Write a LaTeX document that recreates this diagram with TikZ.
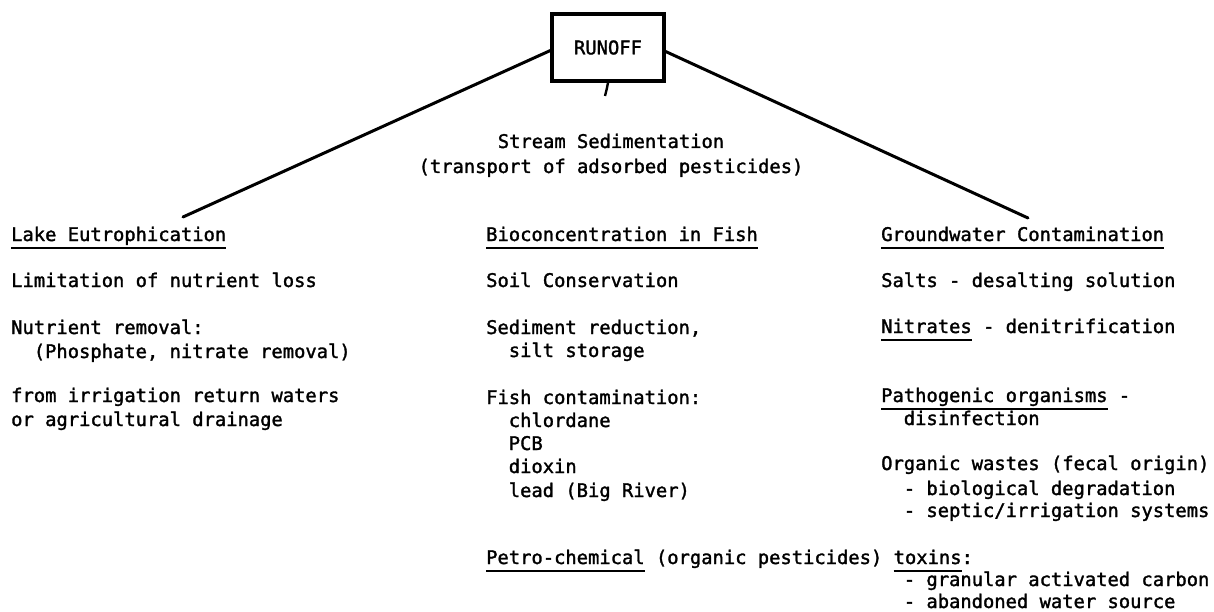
\documentclass[tikz,border=0pt]{standalone}
\usepackage{fontspec}
\newfontfamily\tw[FakeBold=1.6]{DejaVu Sans Mono}
\newcommand\ulin[1]{\setbox0\hbox{#1}\rlap{\rule[-7.5pt]{\wd0}{1.5pt}}\box0\relax}
\tikzset{
  txt/.style={anchor=base west, inner sep=0pt, font=\tw\fontsize{18.8}{23}\selectfont},
  ctxt/.style={anchor=base, inner sep=0pt, font=\tw\fontsize{18.8}{23}\selectfont},
  boxed/.style={draw, line width=3.2pt, minimum width=112pt, minimum height=67pt, inner sep=0pt, font=\tw\fontsize{18.8}{23}\selectfont},
  branch/.style={line width=3pt, line cap=round}
}
\begin{document}
\begin{tikzpicture}[x=1pt,y=-1pt]
\useasboundingbox (0,0) rectangle (1214,612);
% top box
\node[boxed] (runoff) at (608,47.5) {RUNOFF};
\coordinate (tick) at (605,96);
\draw[line width=2.4pt] (runoff.south) .. controls (607,88) .. (tick);
\coordinate (lend) at (183,217);
\coordinate (rend) at (1028,218);
\draw[branch] ([yshift=-3pt]runoff.west) -- (lend);
\draw[branch] ([yshift=-4pt]runoff.east) -- (rend);
% center captions
\node[ctxt] (sed) at (611,148) {Stream Sedimentation};
\node[ctxt] (trans) at (611,173) {(transport of adsorbed pesticides)};
% left column
\node[txt] (lh) at (11,241) {\ulin{Lake Eutrophication}};
\node[txt] (l1) at (11,287) {Limitation of nutrient loss};
\node[txt] (l2) at (11,334) {Nutrient removal:};
\node[txt] (l3) at (33.6,358) {(Phosphate, nitrate removal)};
\node[txt] (l4) at (11,402) {from irrigation return waters};
\node[txt] (l5) at (11,426) {or agricultural drainage};
% middle column
\node[txt] (mh) at (486,241) {\ulin{Bioconcentration in Fish}};
\node[txt] (m1) at (486,287) {Soil Conservation};
\node[txt] (m2) at (486,334) {Sediment reduction,};
\node[txt] (m3) at (508.6,357) {silt storage};
\node[txt] (m4) at (486,404) {Fish contamination:};
\node[txt] (m5) at (508.6,427) {chlordane};
\node[txt] (m6) at (508.6,450) {PCB};
\node[txt] (m7) at (508.6,473) {dioxin};
\node[txt] (m8) at (508.6,497) {lead (Big River)};
\node[txt] (m9) at (486,564) {\ulin{Petro-chemical} (organic pesticides) \ulin{toxins}:};
% right column
\node[txt] (rh) at (881,241) {\ulin{Groundwater Contamination}};
\node[txt] (r1) at (881,287) {Salts - desalting solution};
\node[txt] (r2) at (881,333) {\ulin{Nitrates} - denitrification};
\node[txt] (r3) at (881,402) {\ulin{Pathogenic organisms} -};
\node[txt] (r4) at (903.6,425) {disinfection};
\node[txt] (r5) at (881,470) {Organic wastes (fecal origin)};
\node[txt] (r6) at (903.6,495) {- biological degradation};
\node[txt] (r7) at (903.6,517) {- septic/irrigation systems};
\node[txt] (r8) at (903.6,586) {- granular activated carbon};
\node[txt] (r9) at (903.6,608) {- abandoned water source};
\end{tikzpicture}
\end{document}
